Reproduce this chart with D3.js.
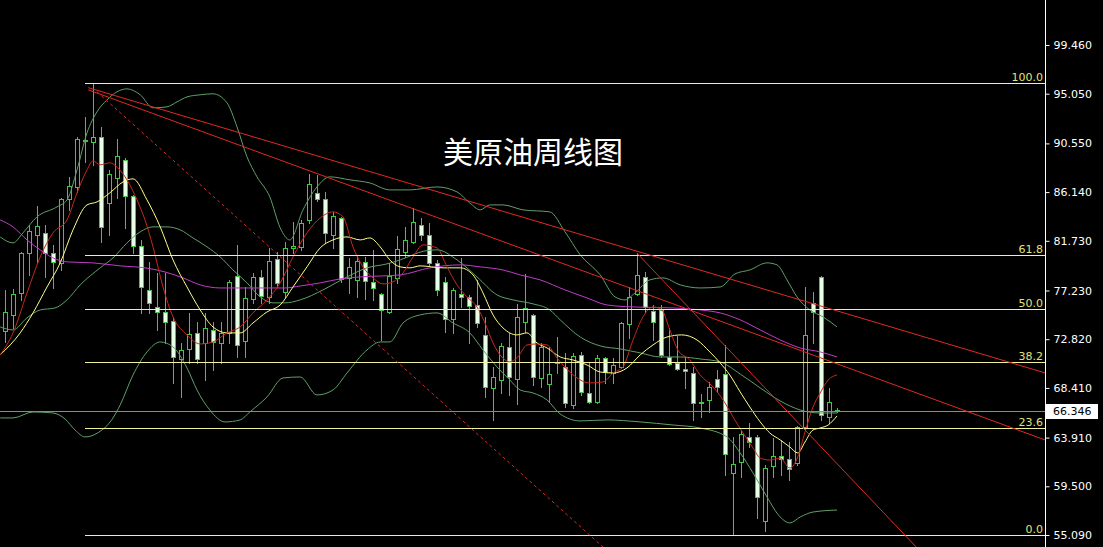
<!DOCTYPE html>
<html><head><meta charset="utf-8">
<script src="https://cdn.jsdelivr.net/npm/d3@7"></script>
<style>html,body{margin:0;padding:0;background:#000;overflow:hidden}</style>
</head><body>
<svg id="chart" width="1103" height="547"></svg>
<script>
// ---- data (weekly candles) ----
const open = [73.60,74.99,76.98,80.61,82.24,82.47,80.67,79.76,85.50,86.64,
90.80,90.72,91.17,85.19,87.46,89.06,85.79,81.27,77.28,75.77,
75.32,74.48,71.01,71.91,73.36,72.45,73.66,72.51,73.42,78.58,
72.69,76.44,78.46,76.68,80.06,77.13,81.06,81.15,83.62,86.10,
85.50,82.27,83.78,78.34,78.19,79.85,77.98,76.92,75.32,78.40,
80.76,81.66,83.17,82.27,79.70,77.96,74.63,76.92,76.62,75.93,
73.21,68.44,69.13,72.15,69.20,74.36,75.02,69.29,68.77,70.70,
70.28,66.87,71.40,67.98,67.17,71.10,69.80,70.28,74.18,76.92,
78.43,75.41,75.47,71.19,70.70,70.10,69.80,67.05,67.32,69.20,
69.65,60.73,61.73,64.00,64.00,56.36,61.37,62.27,61.94,61.59,
64.90,76.08,78.49,65.81,66.45];
const close = [75.26,76.89,80.61,82.66,83.11,80.67,79.85,85.50,86.70,90.94,
90.85,91.12,83.02,87.76,89.42,85.82,81.30,77.53,76.08,75.26,
74.41,71.24,71.85,73.30,71.06,73.81,72.60,73.36,77.98,72.30,
76.53,78.46,76.74,79.91,77.89,81.06,81.27,83.38,86.89,85.53,
82.48,83.99,78.25,79.40,79.94,78.13,77.44,75.47,78.55,80.97,
81.81,83.47,82.27,79.70,77.28,74.63,77.28,76.68,75.83,74.27,
68.53,69.38,72.24,69.38,74.87,75.62,69.38,72.15,69.65,70.78,
67.02,71.31,68.07,67.17,71.10,69.89,70.49,74.27,76.62,78.64,
75.77,74.41,71.40,70.58,70.13,69.95,67.02,67.12,68.53,68.53,
62.40,61.52,64.24,63.49,58.51,61.13,62.27,61.97,61.04,64.90,
73.21,75.32,65.96,67.17,66.346];
const high = [77.28,77.34,80.76,83.17,84.89,83.14,81.36,85.59,87.55,91.17,
92.98,96.00,92.08,88.15,90.94,89.21,85.85,81.81,79.85,78.80,
78.80,74.87,72.45,75.17,74.41,75.17,74.41,74.41,78.19,81.36,
77.59,78.80,79.09,81.06,80.76,81.66,83.47,83.62,87.79,87.70,
86.19,84.38,83.93,80.16,80.46,80.30,80.91,76.98,79.70,82.12,
83.02,84.68,83.78,83.32,80.00,78.49,77.44,80.16,76.83,78.19,
74.87,70.34,72.45,73.36,76.02,78.73,75.08,72.45,72.15,73.06,
71.55,71.55,71.70,70.64,71.40,71.25,71.10,74.41,77.59,80.61,
78.94,75.93,75.93,73.81,73.15,71.25,70.34,67.90,68.98,70.04,
72.30,64.00,64.60,65.21,64.15,61.43,63.85,63.70,63.55,64.96,
77.59,77.13,78.55,68.38,66.55];
const low = [72.60,73.81,76.38,78.64,79.85,78.49,77.44,79.09,84.53,86.19,
88.91,88.61,81.66,82.27,85.59,82.87,80.61,75.17,75.23,73.66,
72.45,68.83,67.62,70.64,70.64,69.13,70.04,70.64,72.45,71.24,
71.24,76.08,76.08,76.08,77.59,76.68,80.61,80.91,83.32,85.29,
81.51,81.06,78.04,76.98,76.68,76.44,76.38,72.75,75.17,77.89,
80.30,81.51,81.81,79.55,76.83,73.51,73.36,75.77,72.45,73.96,
67.62,65.51,67.93,67.77,66.96,73.51,68.68,68.53,67.17,69.74,
66.71,66.56,67.77,67.02,67.02,68.83,68.83,70.19,72.91,76.83,
75.32,72.75,71.24,70.49,70.04,68.38,65.51,65.80,66.26,68.07,
60.53,55.12,60.37,63.09,56.60,55.48,60.37,60.53,60.07,61.43,
64.60,72.45,65.51,65.21,66.20];

// indicator lines: [bar index, price]
const maRed = [[-0.6,71.40],[1,73.39],[2.75,77.01],[4.4,80.27],[6,82.45],[7.75,83.62],[9,86.07],[10.25,88.15],[11,88.97],[11.9,88.61],[13.1,88.79],[14.1,88.33],[15.25,87.25],[16.5,85.43],[17.5,83.62],[18.5,81.18],[19.75,77.55],[21,74.84],[22.75,73.21],[24.4,72.39],[26,72.57],[27.75,73.39],[29.4,73.93],[31,75.20],[32.75,76.38],[34.4,77.92],[36,80.27],[37.75,82.45],[39.4,83.80],[41,84.35],[42.25,83.90],[43.5,81.18],[44.75,79.37],[46,78.37],[47.25,77.83],[48.5,78.01],[49.75,78.82],[51,80.27],[52.25,81.36],[54,81.09],[55.25,79.37],[56.5,77.74],[57.75,76.65],[59,75.74],[60,74.29],[61,72.48],[62.1,71.21],[63.1,70.76],[64.1,71.21],[65.25,72.30],[66.5,72.39],[67.75,72.30],[69,71.12],[70.6,69.85],[73.1,68.86],[74.75,68.95],[76,69.76],[77.25,70.31],[78.5,72.75],[79.75,74.84],[81,75.74],[82.1,75.47],[83.1,73.66],[84.1,71.85],[85.6,70.94],[86.9,69.58],[88.5,68.50],[90,67.05],[91,65.78],[92.25,64.33],[93.5,62.97],[94.4,62.06],[95.6,61.88],[96.9,62.06],[98.1,61.16],[99.1,62.16],[100,64.42],[101,66.68],[101.9,67.95],[102.9,69.13],[104,69.58]];
const maYellow = [[-0.6,71.40],[1.9,73.39],[3.5,75.20],[5.25,77.55],[6.9,79.73],[8.5,82.72],[10.25,84.98],[11.5,85.25],[13.1,86.07],[14.75,87.06],[16,87.34],[17.75,85.43],[19.4,82.99],[21,80.00],[22.75,77.55],[24.4,75.47],[26,73.93],[27.75,73.39],[29.4,73.39],[31,74.29],[32.75,75.29],[34.4,75.92],[36,77.55],[37.75,79.37],[39.4,81.09],[41,81.81],[42.75,82.08],[44.4,81.81],[45.6,81.99],[46.9,81.18],[48.1,80.00],[49.4,79.37],[50.6,79.28],[51.9,79.46],[54.75,79.28],[56.9,79.28],[58.5,78.64],[59.75,77.01],[61,75.02],[62.25,73.84],[64,73.21],[65.25,73.39],[66.5,72.48],[67.75,72.03],[69.4,71.21],[71,70.94],[72.75,70.49],[74.4,69.85],[76,69.76],[77.75,70.22],[79.4,71.40],[81,72.30],[82.75,73.02],[84.6,73.21],[86.5,72.75],[88.1,71.67],[89.4,70.67],[90.6,69.58],[91.9,68.04],[93.1,66.68],[94.4,65.33],[95.6,64.33],[96.9,63.70],[98.1,63.06],[99.1,62.52],[100,63.51],[101,64.60],[101.9,64.78],[102.9,65.05],[104,65.87]];
const maMagenta = [[-0.6,83.62],[1,82.99],[2.75,81.81],[4.4,80.91],[6,80.18],[7.75,79.82],[11,79.73],[14.4,79.46],[17.5,79.28],[20,78.91],[22.25,78.37],[24.4,77.74],[26.9,77.46],[35,77.46],[36.9,77.64],[39.4,77.92],[41.9,78.28],[44.4,78.46],[49.4,78.64],[53.1,79.28],[56.9,79.55],[59.4,79.37],[62.25,79.09],[64.4,78.64],[66.9,78.19],[70,77.28],[72.75,76.56],[75.25,75.92],[78.5,75.74],[83.5,75.65],[86.9,75.47],[89.4,75.20],[91.9,74.57],[94.4,73.66],[96.9,72.75],[99.4,72.03],[101.9,71.67],[104,71.21]];
const bandUpper = [[-0.6,82.08],[1,81.54],[2.25,82.45],[4,83.90],[6.5,84.80],[7.75,85.43],[9,88.15],[10.25,91.50],[11.5,93.41],[12.75,94.49],[14,95.22],[15.25,95.49],[16.9,94.95],[18.5,93.77],[20.25,93.86],[21.5,94.31],[22.75,94.76],[24.4,94.95],[26,95.04],[27.75,94.22],[29,92.05],[30.25,89.33],[31.5,87.52],[33.1,85.71],[34.4,82.90],[35.6,81.81],[37.25,84.53],[39,86.61],[40.6,87.52],[43.1,87.25],[45.6,86.97],[48.1,86.34],[50.6,86.34],[54,86.61],[56.5,86.16],[58.1,85.16],[59.4,84.53],[60.6,84.98],[62.25,84.98],[64.75,84.53],[68.1,84.35],[70,82.54],[71.9,80.46],[74.4,78.64],[76.25,76.65],[77.5,76.38],[78.75,77.01],[80.6,78.19],[82.25,78.37],[84.4,77.74],[86.9,77.46],[89.4,77.55],[91.25,78.73],[93.1,79.09],[95.25,79.73],[96.5,79.55],[97.75,78.19],[99,76.65],[100.6,75.47],[102.25,74.84],[104,73.93]];
const bandMiddle = [[-0.6,73.93],[1,73.66],[2.75,74.75],[4.4,75.47],[6.25,75.65],[7.75,76.38],[9.4,77.74],[11.9,79.28],[13.5,80.18],[15.25,81.54],[16.9,82.54],[18.5,82.99],[20.25,82.99],[21.9,82.72],[23.5,81.99],[25.25,81.18],[26.9,80.27],[28.5,79.09],[30.25,77.92],[31.9,76.65],[33.5,76.11],[35,76.11],[36.9,76.38],[39.75,77.28],[42.75,78.46],[45.25,79.28],[47.75,79.64],[49.4,80.00],[52.5,80.82],[54,80.91],[56.5,80.00],[59,78.46],[61.5,76.83],[63.5,76.38],[66,76.02],[68.1,75.47],[69.4,74.57],[71.9,73.02],[74.4,72.21],[76.9,71.94],[79.4,71.58],[81.9,71.21],[84.4,71.21],[86.9,71.03],[89.4,70.76],[91.9,69.67],[94.4,68.41],[96.9,67.23],[99.4,66.41],[101.9,66.14],[104,66.14]];
const bandLower = [[-0.6,65.69],[1,65.69],[3.5,66.23],[6,66.14],[7.5,65.60],[8.75,64.60],[10,63.97],[11.5,64.30],[13.5,65.69],[14.4,66.87],[16,69.58],[17.75,71.67],[19.4,72.57],[21,72.12],[22.75,70.22],[24,68.22],[25.6,66.41],[27.5,65.33],[29.4,65.51],[30.6,66.23],[32.75,67.59],[34.75,69.31],[36.9,69.40],[39,67.77],[41,68.22],[42.75,69.76],[45.25,71.85],[46.9,72.57],[48.1,72.57],[49.75,74.29],[51.9,75.02],[54,75.20],[56,74.29],[58.1,73.39],[59.75,71.85],[61.5,70.31],[63.1,69.13],[64.4,68.22],[66,67.95],[67.75,67.32],[69.4,66.05],[71.9,65.42],[75.25,65.51],[79.4,65.33],[83.5,65.05],[86.9,64.78],[90.25,63.97],[91.9,62.52],[93.5,60.71],[95.25,58.53],[96.9,56.72],[98.1,56.18],[99.4,56.72],[101,57.17],[104,57.35]];

// trend lines: two anchors [bar index, price]
const trendUpper = [[10.4,95.60],[130,69.77]];
const trendLower = [[10.4,95.40],[130,63.70]];
const trendSteep = [[79,80.61],[113.9,54.00]];
const trendDashed = [[11.5,95.22],[74.75,54.00]];

// fibonacci retracement
const fibLabels = ["100.0","61.8","50.0","38.2","23.6","0.0"];
const fibPrices = [96.02,80.40,75.55,70.73,64.75,55.09];
const fibStartIndex = 10;

const yTicks = [55.09,59.50,63.91,68.41,72.82,77.23,81.73,86.14,90.55,95.05,99.46,103.87];
const lastPrice = 66.346;
const title = "美原油周线图";

// ---- drawing ----
const W = 1103, H = 547, plotRight = 1045;
const svg = d3.select("#chart");
svg.append("rect").attr("width",W).attr("height",H).attr("fill","#000");
svg.append("defs").append("clipPath").attr("id","plot")
  .append("rect").attr("x",0).attr("y",0).attr("width",plotRight).attr("height",H);

const x = d3.scaleLinear().domain([0,104]).range([5,837]);
const y = d3.scaleLinear().domain([55.09,99.46]).range([535,45]);
const plot = svg.append("g").attr("clip-path","url(#plot)");

const green = "#3ccc3c";
const idx = d3.range(open.length);

// candles
const cg = plot.append("g").attr("shape-rendering","crispEdges");
cg.selectAll("line.wick").data(idx).join("line")
  .attr("x1",i=>Math.round(x(i))+0.5).attr("x2",i=>Math.round(x(i))+0.5)
  .attr("y1",i=>Math.round(y(high[i]))).attr("y2",i=>Math.round(y(low[i]))+1)
  .attr("stroke",green).attr("stroke-width",1);
cg.selectAll("rect.body").data(idx).join("rect")
  .attr("x",i=>Math.round(x(i))-1.5)
  .attr("y",i=>Math.round(y(Math.max(open[i],close[i])))+0.5)
  .attr("width",4)
  .attr("height",i=>Math.max(1,Math.round(y(Math.min(open[i],close[i])))-Math.round(y(Math.max(open[i],close[i])))))
  .attr("fill",i=>close[i]<open[i]?"#e6ffe6":"#000")
  .attr("stroke",green).attr("stroke-width",1);

// indicators
const line = d3.line().x(d=>x(d[0])).y(d=>y(d[1])).curve(d3.curveMonotoneX);
const band = "#5f9f68";
[[bandUpper,band],[bandMiddle,band],[bandLower,band],
 [maMagenta,"#c13cc8"],[maYellow,"#ffff8a"],[maRed,"#c8281e"]].forEach(([d,c])=>{
  plot.append("path").datum(d).attr("d",line).attr("fill","none")
    .attr("stroke",c).attr("stroke-width",1);
});

// current price line
plot.append("line").attr("x1",0).attr("x2",plotRight)
  .attr("y1",Math.round(y(lastPrice))+0.5).attr("y2",Math.round(y(lastPrice))+0.5)
  .attr("stroke","#8a8a8a").attr("stroke-width",1);

// fibonacci lines
const fg = plot.append("g");
fibPrices.forEach((p,k)=>{
  const yy = Math.round(y(p))+0.5;
  fg.append("line").attr("x1",x(fibStartIndex)).attr("x2",plotRight)
    .attr("y1",yy).attr("y2",yy).attr("stroke","#f2f29c").attr("stroke-width",1);
  fg.append("text").attr("x",plotRight-2).attr("y",yy-3)
    .attr("text-anchor","end").attr("fill","#e2e27a")
    .style("font-family","DejaVu Sans, Verdana, sans-serif").style("font-size","11px")
    .text(fibLabels[k]);
});

// trend lines
const straight = d3.line().x(d=>x(d[0])).y(d=>y(d[1]));
[[trendUpper,null],[trendLower,null],[trendSteep,null],[trendDashed,"3,3"]].forEach(([d,dash])=>{
  const p = plot.append("path").datum(d).attr("d",straight).attr("fill","none")
    .attr("stroke","#e02a24").attr("stroke-width",1);
  if (dash) p.attr("stroke-dasharray",dash);
});

// title
svg.append("text").attr("x",533).attr("y",163).attr("text-anchor","middle")
  .attr("fill","#fff").style("font-family","'Noto Sans CJK SC', sans-serif")
  .style("font-size","30px").text(title);

// right axis
svg.append("line").attr("x1",plotRight+0.5).attr("x2",plotRight+0.5)
  .attr("y1",0).attr("y2",H).attr("stroke","#fff").attr("stroke-width",1);
const axis = d3.axisRight(y).tickValues(yTicks).tickFormat(d3.format(".3f"))
  .tickSize(4).tickPadding(4);
const ag = svg.append("g").attr("transform",`translate(${plotRight+0.5},0)`).call(axis);
ag.select(".domain").remove();
ag.selectAll("line").attr("stroke","#fff");
ag.selectAll("text").attr("fill","#fff")
  .style("font-family","DejaVu Sans, Verdana, sans-serif").style("font-size","11px");

// last price box
const ly = y(lastPrice);
svg.append("rect").attr("x",plotRight+1).attr("y",Math.round(ly)-7).attr("width",52).attr("height",15).attr("fill","#fff");
svg.append("text").attr("x",plotRight+8).attr("y",ly).attr("dy","0.35em").attr("fill","#000")
  .style("font-family","DejaVu Sans, Verdana, sans-serif").style("font-size","11px")
  .text(d3.format(".3f")(lastPrice));
</script>
</body></html>
